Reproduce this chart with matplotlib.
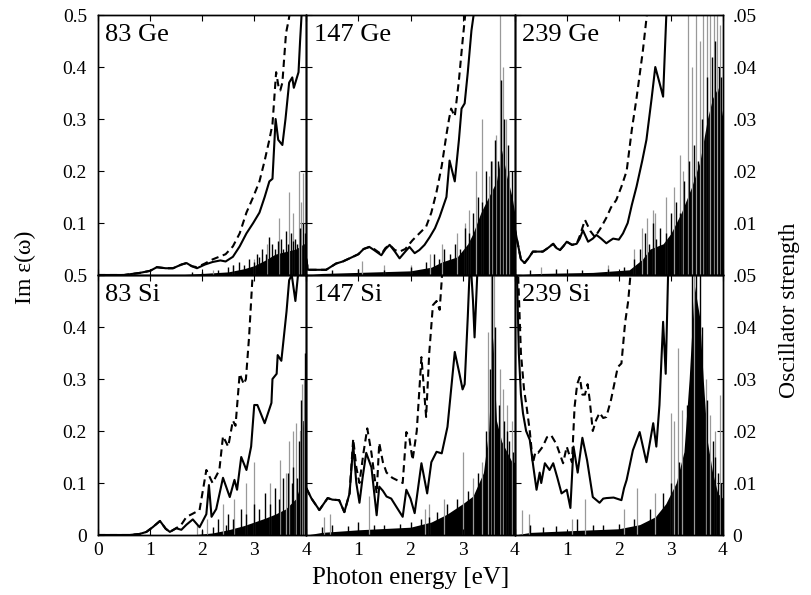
import matplotlib
matplotlib.use('Agg')
import matplotlib.pyplot as plt
import numpy as np

plt.rcParams['font.family'] = ['Liberation Serif', 'DejaVu Serif']

# ---------------- 83 Ge (top left) ----------------
ge83_E = [0, 0.5, 0.8, 1.0, 1.13, 1.3, 1.44, 1.6, 1.7, 1.8, 1.9, 2.05, 2.2, 2.35, 2.45, 2.59, 2.72,
          2.85, 2.98, 3.1, 3.2, 3.29, 3.35, 3.41, 3.46, 3.54, 3.6, 3.67, 3.73, 3.76, 3.85, 3.88, 3.92]
ge83_solid = [0, 0, 0.004, 0.008, 0.015, 0.013, 0.013, 0.02, 0.023, 0.017, 0.013, 0.02, 0.025, 0.028,
              0.026, 0.035, 0.055, 0.08, 0.1, 0.12, 0.15, 0.18, 0.185, 0.30, 0.26, 0.25, 0.30, 0.37,
              0.38, 0.36, 0.39, 0.45, 0.52]
ge83_dE = [0, 0.5, 0.8, 1.0, 1.13, 1.3, 1.44, 1.6, 1.7, 1.8, 1.9, 2.05, 2.2, 2.35, 2.45, 2.59, 2.72,
           2.85, 2.98, 3.1, 3.2, 3.29, 3.35, 3.42, 3.47, 3.5, 3.54, 3.61, 3.66, 3.71]
ge83_dashed = [0, 0, 0.004, 0.008, 0.015, 0.013, 0.013, 0.02, 0.023, 0.017, 0.015, 0.022, 0.03, 0.036,
               0.04, 0.055, 0.08, 0.12, 0.15, 0.18, 0.22, 0.26, 0.29, 0.39, 0.36, 0.355, 0.37, 0.465,
               0.49, 0.52]
ge83_envE = [1.5, 2.0, 2.5, 2.8, 3.0, 3.2, 3.4, 3.6, 3.8, 3.95, 4.0]
ge83_env = [0, 0.003, 0.006, 0.012, 0.018, 0.028, 0.04, 0.045, 0.05, 0.06, 0.06]
ge83_blackE = [1.8, 2.0, 2.3, 2.5, 2.6, 2.7, 2.8, 2.9, 3.0, 3.05, 3.1, 3.15, 3.22, 3.29, 3.35, 3.4,
               3.45, 3.52, 3.56, 3.6, 3.65, 3.7, 3.74, 3.78, 3.83, 3.87, 3.93, 3.97]
ge83_black = [0.005, 0.006, 0.01, 0.015, 0.02, 0.025, 0.02, 0.03, 0.025, 0.04, 0.035, 0.05, 0.04,
              0.074, 0.06, 0.05, 0.065, 0.07, 0.05, 0.085, 0.06, 0.08, 0.065, 0.07, 0.06, 0.09, 0.1,
              0.08]
ge83_grayE = [2.2, 2.6, 3.0, 3.25, 3.48, 3.67, 3.75, 3.85, 3.9, 3.94]
ge83_gray = [0.01, 0.02, 0.03, 0.06, 0.11, 0.16, 0.12, 0.2, 0.14, 0.196]

# ---------------- 147 Ge (top middle) ----------------
ge147_E = [0, 0.03, 0.2, 0.38, 0.57, 0.7, 0.83, 1.0, 1.1, 1.21, 1.3, 1.44, 1.52, 1.6, 1.7, 1.79, 1.9,
           1.98, 2.08, 2.17, 2.27, 2.37, 2.47, 2.56, 2.69, 2.75, 2.85, 2.93, 2.98, 3.04, 3.1, 3.17,
           3.24]
ge147_solid = [0.03, 0.01, 0.01, 0.01, 0.022, 0.026, 0.032, 0.04, 0.05, 0.054, 0.048, 0.038, 0.05,
               0.058, 0.045, 0.032, 0.045, 0.054, 0.042, 0.048, 0.058, 0.073, 0.09, 0.112, 0.15,
               0.22, 0.18, 0.26, 0.32, 0.33, 0.39, 0.47, 0.52]
ge147_dE = [0, 0.03, 0.2, 0.38, 0.57, 0.7, 0.83, 1.0, 1.1, 1.21, 1.3, 1.44, 1.52, 1.6, 1.7, 1.79,
            1.9, 2.04, 2.17, 2.3, 2.4, 2.5, 2.6, 2.69, 2.74, 2.78, 2.85, 2.93, 3.0, 3.07]
ge147_dashed = [0.03, 0.01, 0.01, 0.01, 0.022, 0.026, 0.032, 0.04, 0.05, 0.054, 0.05, 0.04, 0.052,
                0.058, 0.048, 0.045, 0.05, 0.067, 0.08, 0.093, 0.12, 0.16, 0.21, 0.27, 0.30, 0.32,
                0.305, 0.375, 0.45, 0.52]
ge147_envE = [0, 0.3, 1.0, 2.0, 2.4, 2.6, 2.9, 3.1, 3.2, 3.35, 3.5, 3.65, 3.75, 3.85, 3.95, 4.0]
ge147_env = [0, 0.003, 0.005, 0.008, 0.015, 0.025, 0.035, 0.06, 0.08, 0.12, 0.15, 0.18, 0.24, 0.19,
             0.15, 0.12]
ge147_blackE = [0.5, 1.0, 1.5, 2.0, 2.3, 2.45, 2.55, 2.65, 2.75, 2.85, 2.95, 3.05, 3.12, 3.2, 3.3,
                3.38, 3.45, 3.55, 3.62, 3.68, 3.74, 3.8, 3.88, 3.95]
ge147_black = [0.01, 0.012, 0.01, 0.015, 0.025, 0.04, 0.03, 0.05, 0.04, 0.06, 0.05, 0.09, 0.08, 0.12,
               0.15, 0.14, 0.2, 0.22, 0.26, 0.22, 0.375, 0.3, 0.25, 0.2]
ge147_grayE = [1.06, 1.5, 2.0, 2.37, 2.6, 2.9, 3.04, 3.12, 3.25, 3.37, 3.5, 3.56, 3.65, 3.71, 3.77,
               3.83, 3.9]
ge147_gray = [0.026, 0.02, 0.02, 0.04, 0.06, 0.08, 0.1, 0.125, 0.2, 0.30, 0.19, 0.22, 0.27, 0.52,
              0.4, 0.3, 0.2]

# ---------------- 239 Ge (top right) ----------------
ge239_E = [0.0, 0.08, 0.12, 0.19, 0.27, 0.35, 0.45, 0.54, 0.64, 0.74, 0.8, 0.87, 0.94, 1.0, 1.1,
           1.19, 1.25, 1.31, 1.41, 1.5, 1.57, 1.66, 1.76, 1.83, 1.89, 2.0, 2.08, 2.17, 2.25, 2.34,
           2.45, 2.53, 2.63, 2.7, 2.78, 2.85, 2.88, 2.92]
ge239_solid = [0.09, 0.05, 0.03, 0.023, 0.033, 0.045, 0.045, 0.045, 0.052, 0.06, 0.052, 0.048,
               0.056, 0.064, 0.058, 0.06, 0.07, 0.086, 0.064, 0.07, 0.077, 0.07, 0.061, 0.066, 0.07,
               0.068, 0.08, 0.1, 0.135, 0.17, 0.22, 0.26, 0.34, 0.4, 0.37, 0.343, 0.42, 0.52]
ge239_dE = [0.0, 0.08, 0.12, 0.19, 0.27, 0.35, 0.45, 0.54, 0.64, 0.74, 0.8, 0.87, 0.94, 1.0, 1.1,
            1.19, 1.25, 1.35, 1.45, 1.54, 1.65, 1.76, 1.85, 1.95, 2.05, 2.15, 2.25, 2.34, 2.46, 2.56]
ge239_dashed = [0.09, 0.05, 0.03, 0.023, 0.033, 0.045, 0.045, 0.045, 0.052, 0.06, 0.052, 0.048,
                0.056, 0.064, 0.058, 0.06, 0.075, 0.106, 0.085, 0.073, 0.09, 0.11, 0.13, 0.144,
                0.17, 0.2, 0.28, 0.34, 0.43, 0.52]
ge239_envE = [0, 0.5, 1.5, 2.2, 2.45, 2.6, 2.85, 3.0, 3.2, 3.4, 3.56, 3.7, 3.8, 3.9, 4.0]
ge239_env = [0, 0.003, 0.005, 0.01, 0.03, 0.05, 0.06, 0.08, 0.12, 0.17, 0.22, 0.3, 0.34, 0.36, 0.3]
ge239_blackE = [0.3, 0.8, 1.3, 1.8, 2.1, 2.3, 2.4, 2.5, 2.58, 2.65, 2.72, 2.8, 2.9, 3.0, 3.1, 3.18,
                3.25, 3.35, 3.45, 3.52, 3.6, 3.7, 3.78, 3.85, 3.92, 3.97]
ge239_black = [0.01, 0.012, 0.01, 0.012, 0.015, 0.03, 0.05, 0.08, 0.06, 0.1, 0.07, 0.09, 0.08, 0.12,
               0.14, 0.12, 0.18, 0.22, 0.25, 0.22, 0.3, 0.38, 0.42, 0.45, 0.4, 0.38]
ge239_grayE = [0.5, 1.0, 1.8, 2.3, 2.44, 2.55, 2.65, 2.7, 2.9, 3.05, 3.17, 3.23, 3.33, 3.4, 3.48,
               3.55, 3.62, 3.7, 3.76, 3.82, 3.88, 3.94]
ge239_gray = [0.015, 0.012, 0.02, 0.05, 0.09, 0.11, 0.125, 0.12, 0.15, 0.17, 0.23, 0.2, 0.52, 0.4,
              0.52, 0.45, 0.52, 0.52, 0.52, 0.52, 0.52, 0.48]

# ---------------- 83 Si (bottom left) ----------------
si83_E = [0, 0.6, 0.8, 0.93, 1.05, 1.19, 1.3, 1.38, 1.5, 1.6, 1.7, 1.82, 1.95, 2.08, 2.13, 2.18,
          2.27, 2.4, 2.53, 2.62, 2.67, 2.75, 2.85, 2.94, 3.0, 3.06, 3.2, 3.33, 3.35, 3.43, 3.45,
          3.52, 3.62, 3.67, 3.72, 3.79, 3.84, 3.88]
si83_solid = [0, 0, 0.002, 0.006, 0.015, 0.027, 0.012, 0.006, 0.013, 0.01, 0.02, 0.03, 0.015, 0.04,
              0.096, 0.035, 0.05, 0.11, 0.073, 0.106, 0.087, 0.15, 0.125, 0.17, 0.25, 0.25, 0.215,
              0.254, 0.30, 0.31, 0.346, 0.335, 0.43, 0.49, 0.5, 0.45, 0.5, 0.52]
si83_dE = [0, 0.6, 0.8, 0.93, 1.05, 1.19, 1.3, 1.38, 1.5, 1.6, 1.7, 1.8, 1.95, 2.08, 2.2, 2.33, 2.4,
           2.5, 2.59, 2.64, 2.72, 2.8, 2.84, 2.9, 2.98]
si83_dashed = [0, 0, 0.002, 0.006, 0.015, 0.027, 0.012, 0.006, 0.013, 0.02, 0.035, 0.04, 0.048,
               0.125, 0.1, 0.125, 0.19, 0.17, 0.22, 0.21, 0.31, 0.29, 0.30, 0.38, 0.52]
si83_envE = [1.8, 2.2, 2.5, 2.8, 3.0, 3.2, 3.4, 3.6, 3.7, 3.8, 3.9, 3.93, 4.0]
si83_env = [0, 0.004, 0.01, 0.018, 0.025, 0.032, 0.04, 0.05, 0.06, 0.07, 0.1, 0.22, 0.22]
si83_blackE = [2.0, 2.2, 2.3, 2.45, 2.5, 2.6, 2.75, 2.85, 3.0, 3.1, 3.2, 3.3, 3.4, 3.48, 3.55, 3.65,
               3.72, 3.75, 3.82, 3.85, 3.9, 3.97]
si83_black = [0.01, 0.015, 0.03, 0.02, 0.04, 0.03, 0.05, 0.04, 0.06, 0.05, 0.08, 0.06, 0.09, 0.07,
              0.11, 0.12, 0.1, 0.13, 0.11, 0.18, 0.26, 0.35]
si83_grayE = [1.9, 2.1, 2.4, 2.62, 2.85, 3.0, 3.3, 3.5, 3.6, 3.66, 3.75, 3.8, 3.87, 3.92, 3.96]
si83_gray = [0.02, 0.03, 0.06, 0.07, 0.1, 0.14, 0.1, 0.144, 0.12, 0.18, 0.2, 0.215, 0.2, 0.29, 0.3]

# ---------------- 147 Si (bottom middle) ----------------
si147_E = [0, 0.1, 0.25, 0.41, 0.5, 0.63, 0.73, 0.83, 0.9, 0.96, 1.02, 1.08, 1.15, 1.25, 1.35, 1.4,
           1.47, 1.54, 1.63, 1.73, 1.85, 1.92, 2.0, 2.08, 2.21, 2.32, 2.4, 2.5, 2.6, 2.71, 2.78,
           2.85, 2.94, 3.0, 3.04, 3.1, 3.14, 3.17, 3.2, 3.23, 3.26, 3.29]
si147_solid = [0.09, 0.07, 0.048, 0.071, 0.068, 0.067, 0.044, 0.08, 0.173, 0.1, 0.062, 0.11, 0.158,
               0.13, 0.038, 0.093, 0.085, 0.074, 0.07, 0.054, 0.035, 0.087, 0.07, 0.042, 0.138,
               0.08, 0.14, 0.16, 0.157, 0.208, 0.28, 0.352, 0.31, 0.28, 0.29, 0.42, 0.52, 0.5, 0.45,
               0.38, 0.45, 0.52]
si147_dE = [0, 0.1, 0.25, 0.41, 0.5, 0.63, 0.73, 0.83, 0.9, 0.96, 1.02, 1.1, 1.17, 1.25, 1.35, 1.4,
            1.47, 1.54, 1.65, 1.75, 1.85, 1.92, 1.98, 2.04, 2.12, 2.21, 2.3, 2.36, 2.43, 2.5, 2.56,
            2.62]
si147_dashed = [0.09, 0.07, 0.048, 0.071, 0.068, 0.067, 0.044, 0.08, 0.185, 0.13, 0.1, 0.16, 0.205,
                0.158, 0.08, 0.177, 0.14, 0.12, 0.11, 0.105, 0.1, 0.198, 0.185, 0.144, 0.2, 0.342,
                0.227, 0.35, 0.442, 0.45, 0.433, 0.52]
si147_envE = [0, 0.3, 1.0, 2.0, 2.4, 2.7, 3.0, 3.2, 3.4, 3.5, 3.58, 3.65, 3.75, 3.85, 3.95, 4.0]
si147_env = [0, 0.005, 0.01, 0.015, 0.025, 0.04, 0.06, 0.075, 0.12, 0.2, 0.38, 0.22, 0.18, 0.16,
             0.14, 0.14]
si147_blackE = [0.3, 0.5, 0.8, 1.0, 1.3, 1.5, 1.8, 2.0, 2.2, 2.35, 2.5, 2.7, 2.9, 3.1, 3.3, 3.45,
                3.52, 3.56, 3.62, 3.7, 3.8, 3.85, 3.9, 3.97]
si147_black = [0.015, 0.02, 0.018, 0.025, 0.02, 0.02, 0.022, 0.025, 0.03, 0.035, 0.045, 0.06, 0.07,
               0.085, 0.12, 0.2, 0.32, 0.52, 0.4, 0.25, 0.22, 0.2, 0.18, 0.16]
si147_grayE = [0.33, 0.45, 1.2, 2.27, 2.35, 2.65, 3.0, 3.2, 3.38, 3.49, 3.55, 3.6, 3.71, 3.78, 3.85,
               3.94]
si147_gray = [0.035, 0.04, 0.075, 0.05, 0.06, 0.07, 0.16, 0.11, 0.14, 0.39, 0.52, 0.52, 0.32, 0.28,
              0.25, 0.22]

# ---------------- 239 Si (bottom right) ----------------
si239_E = [0.04, 0.08, 0.12, 0.16, 0.22, 0.29, 0.36, 0.42, 0.48, 0.51, 0.58, 0.67, 0.74, 0.82, 0.9,
           1.0, 1.07, 1.13, 1.21, 1.3, 1.39, 1.5, 1.63, 1.7, 1.76, 1.9, 2.05, 2.1, 2.15, 2.27, 2.4,
           2.53, 2.6, 2.66, 2.72, 2.78, 2.85, 2.9, 2.95]
si239_solid = [0.52, 0.35, 0.27, 0.234, 0.2, 0.183, 0.13, 0.087, 0.12, 0.1, 0.138, 0.125, 0.138,
               0.11, 0.08, 0.087, 0.052, 0.17, 0.12, 0.187, 0.144, 0.073, 0.062, 0.07, 0.071, 0.072,
               0.067, 0.09, 0.106, 0.163, 0.198, 0.14, 0.18, 0.215, 0.17, 0.25, 0.41, 0.31, 0.52]
si239_dE = [0.06, 0.12, 0.18, 0.23, 0.29, 0.35, 0.4, 0.45, 0.54, 0.62, 0.7, 0.8, 0.93, 1.0, 1.03,
            1.1, 1.15, 1.2, 1.25, 1.3, 1.35, 1.4, 1.44, 1.5, 1.56, 1.63, 1.7, 1.76, 1.85, 1.98, 2.05,
            2.12, 2.18, 2.24]
si239_dashed = [0.52, 0.35, 0.28, 0.246, 0.2, 0.138, 0.16, 0.158, 0.17, 0.188, 0.192, 0.175, 0.138,
                0.17, 0.16, 0.14, 0.246, 0.29, 0.304, 0.27, 0.27, 0.29, 0.26, 0.2, 0.22, 0.235,
                0.225, 0.227, 0.26, 0.323, 0.33, 0.408, 0.45, 0.52]
si239_envE = [0, 0.3, 1.0, 2.0, 2.4, 2.7, 2.9, 3.1, 3.25, 3.35, 3.45, 3.55, 3.62, 3.7, 3.8, 3.9, 4.0]
si239_env = [0, 0.005, 0.008, 0.012, 0.02, 0.035, 0.06, 0.1, 0.16, 0.3, 0.48, 0.42, 0.3, 0.18, 0.12,
             0.08, 0.07]
si239_blackE = [0.3, 0.55, 0.8, 1.2, 1.5, 1.7, 2.0, 2.3, 2.6, 2.85, 3.0, 3.15, 3.3, 3.4, 3.48, 3.55,
                3.6, 3.7, 3.8, 3.85, 3.9, 3.97]
si239_black = [0.02, 0.015, 0.018, 0.03, 0.02, 0.02, 0.022, 0.03, 0.05, 0.08, 0.1, 0.14, 0.25, 0.52,
               0.52, 0.52, 0.4, 0.26, 0.18, 0.15, 0.12, 0.1]
si239_grayE = [0.15, 0.27, 1.1, 1.35, 2.1, 2.35, 2.7, 3.0, 3.06, 3.14, 3.22, 3.45, 3.68, 3.75, 3.84,
               3.94]
si239_gray = [0.048, 0.04, 0.03, 0.07, 0.05, 0.09, 0.08, 0.235, 0.22, 0.36, 0.24, 0.52, 0.3, 0.23,
              0.2, 0.27]

panels = [
    ('83 Ge', ge83_E, ge83_solid, ge83_dE, ge83_dashed, ge83_envE, ge83_env,
     ge83_blackE, ge83_black, ge83_grayE, ge83_gray),
    ('147 Ge', ge147_E, ge147_solid, ge147_dE, ge147_dashed, ge147_envE, ge147_env,
     ge147_blackE, ge147_black, ge147_grayE, ge147_gray),
    ('239 Ge', ge239_E, ge239_solid, ge239_dE, ge239_dashed, ge239_envE, ge239_env,
     ge239_blackE, ge239_black, ge239_grayE, ge239_gray),
    ('83 Si', si83_E, si83_solid, si83_dE, si83_dashed, si83_envE, si83_env,
     si83_blackE, si83_black, si83_grayE, si83_gray),
    ('147 Si', si147_E, si147_solid, si147_dE, si147_dashed, si147_envE, si147_env,
     si147_blackE, si147_black, si147_grayE, si147_gray),
    ('239 Si', si239_E, si239_solid, si239_dE, si239_dashed, si239_envE, si239_env,
     si239_blackE, si239_black, si239_grayE, si239_gray),
]

eps_ticks = [0, 0.1, 0.2, 0.3, 0.4, 0.5]
eps_labels = ['0', '0.1', '0.2', '0.3', '0.4', '0.5']
osc_ticks = [0, 0.01, 0.02, 0.03, 0.04, 0.05]
osc_labels = ['0', '.01', '.02', '.03', '.04', '.05']
e_ticks = [0, 1, 2, 3, 4]

fig = plt.figure(figsize=(8.11, 5.95), dpi=100)
gs = fig.add_gridspec(2, 3, left=98 / 811, right=723 / 811, bottom=1 - 535 / 595,
                      top=1 - 15 / 595, wspace=0, hspace=0)

for i, (name, sE, sv, dE, dv, envE, env, bE, bh, gE, gh) in enumerate(panels):
    row, col = divmod(i, 3)
    ax = fig.add_subplot(gs[row, col])
    tw = ax.twinx()
    ax.set_zorder(tw.get_zorder() + 1)
    ax.patch.set_visible(False)

    # oscillator strengths (right scale): gray sticks behind, black dense part in front
    tw.vlines(gE, 0, np.array(gh) / 10, color='0.6', lw=0.9)
    tw.fill_between(envE, np.array(env) / 10, color='black', lw=0)
    tw.vlines(bE, 0, np.array(bh) / 10, color='black', lw=1.0)

    # Im eps curves (left scale)
    ax.plot(sE, sv, color='black', lw=1.5)
    ax.plot(dE, dv, color='black', lw=1.5, ls=(0, (3.5, 2.2)))

    ax.set_xlim(0, 4)
    ax.set_ylim(0, 0.5)
    tw.set_ylim(0, 0.05)
    ax.set_xticks(e_ticks)
    ax.set_yticks(eps_ticks)
    tw.set_yticks(osc_ticks)

    ax.tick_params(direction='in', top=True, right=False, length=4, width=0.8, labelsize=14)
    ax.tick_params(axis='y', pad=8)
    ax.tick_params(axis='x', pad=5)
    tw.tick_params(direction='in', length=4, width=0.8, labelsize=14, pad=7)

    if row == 1:
        xl = [str(t) for t in e_ticks]
        if col > 0:
            xl[0] = ''
        ax.set_xticklabels(xl)
    else:
        ax.set_xticklabels([])

    if col == 0:
        yl = list(eps_labels)
        if row == 0:
            yl[0] = ''
        ax.set_yticklabels(yl)
    else:
        ax.set_yticklabels([])

    if col == 2:
        rl = list(osc_labels)
        if row == 0:
            rl[0] = ''
        tw.set_yticklabels(rl)
    else:
        tw.set_yticklabels([])

    for sp in list(ax.spines.values()) + list(tw.spines.values()):
        sp.set_linewidth(1.0)

    ax.text(0.035, 0.965, name, transform=ax.transAxes, ha='left', va='top', fontsize=19)

fig.text(25 / 811, 1 - 267 / 595, 'Im ε(ω)', rotation=90, ha='center', va='center', fontsize=17)
fig.text(790 / 811, 1 - 310 / 595, 'Oscillator strength', rotation=90, ha='center', va='center',
         fontsize=17)
fig.text(411 / 811, 1 - 578 / 595, 'Photon energy [eV]', ha='center', va='center', fontsize=18)

fig.savefig('out.png', dpi=100)
